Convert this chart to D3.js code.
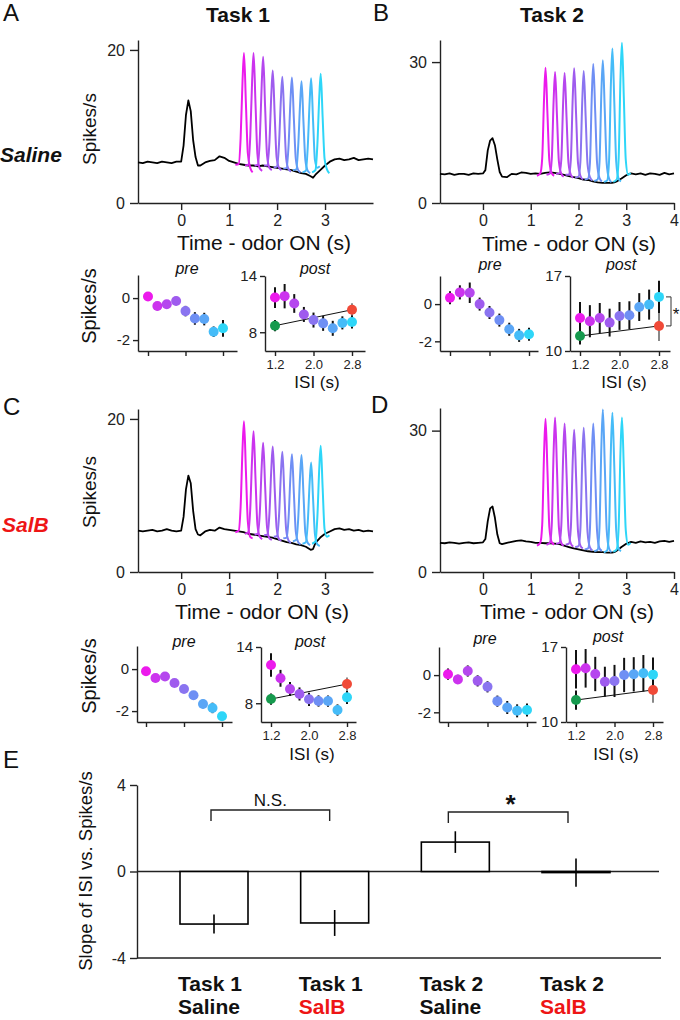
<!DOCTYPE html>
<html><head><meta charset="utf-8">
<script src="https://cdn.jsdelivr.net/npm/d3@7"></script>
<style>body{margin:0;background:#fff}svg{display:block}</style>
</head><body><script>
// ---------------- DATA ----------------
const isiValues = [1.2, 1.4, 1.6, 1.8, 2.0, 2.2, 2.4, 2.6, 2.8];
const isiColors = ["#ec1aec","#cc33ee","#b547ee","#9f5bee","#8a74f0","#6f8ff4","#5aa6f6","#45bcf8","#2ed6f8"];

// black PSTH traces (time in s, spikes/s)
const traceTime = [-0.9,-0.8,-0.7,-0.6,-0.5,-0.4,-0.3,-0.2,-0.1,0,
  0.05,0.1,0.15,0.2,0.25,0.3,0.35,0.4,
  0.5,0.6,0.7,0.8,0.9,1.0,1.1,1.2,1.3,1.4,1.5,1.6,1.7,1.8,1.9,2.0,2.1,2.2,2.3,2.4,2.5,2.6,2.7,
  2.75,
  2.8,2.9,3.0,3.1,3.2,3.3,3.4,3.5,3.6,3.7,3.8,3.9,4.0];
const traceA = [5.3,5.2,5.4,5.3,5.2,5.4,5.3,5.2,5.4,5.4,
  7.5,11.5,13.4,12.0,8.2,6.0,4.9,4.9,
  5.3,5.5,5.6,6.1,5.9,5.5,5.3,5.1,5.0,4.9,4.9,4.8,4.9,4.8,4.7,4.6,4.5,4.4,4.3,4.1,3.9,3.8,3.5,
  3.3,
  3.7,4.3,4.9,5.4,5.7,5.8,5.6,5.7,5.9,5.6,5.7,5.8,5.7];
const traceB = [6.2,6.1,6.3,6.0,6.2,6.2,6.0,6.3,6.2,6.3,
  7.0,11.2,13.3,13.8,12.3,9.3,6.6,5.6,
  5.5,6.2,6.1,6.5,6.4,6.2,6.3,6.2,6.4,6.5,6.4,6.2,6.0,5.7,5.5,5.3,5.0,4.9,4.6,4.4,4.3,4.3,4.3,
  4.4,
  4.6,5.2,5.9,6.3,6.1,6.3,6.0,6.3,6.2,6.0,6.4,6.1,6.3];
const traceC = [5.4,5.3,5.4,5.5,5.3,5.4,5.6,5.4,5.3,5.4,
  7.2,10.8,12.6,11.6,8.0,5.6,4.9,4.8,
  5.3,5.5,5.4,5.8,5.6,5.5,5.4,5.3,5.2,5.0,4.9,4.8,4.7,4.6,4.5,4.3,4.1,3.9,3.8,3.6,3.5,3.3,2.9,
  3.0,
  3.8,4.5,5.0,5.3,5.6,5.7,5.5,5.6,5.4,5.5,5.3,5.4,5.3];
const traceD = [6.2,6.1,6.3,6.2,6.0,6.2,6.3,6.1,6.2,6.3,
  7.0,10.8,13.5,13.9,11.5,8.0,6.1,5.9,
  6.2,6.4,6.6,6.7,6.5,6.4,6.2,6.2,6.1,6.1,6.0,5.9,5.6,5.3,5.0,4.8,4.6,4.4,4.3,4.2,4.2,4.1,4.1,
  4.2,
  4.5,5.3,6.0,6.4,6.2,6.5,6.3,6.4,6.2,6.5,6.6,6.4,6.6];

// colored responses to 2nd odor, sampled at ISI + offset
const peakOffsets = [-0.07, 0, 0.04, 0.08, 0.11, 0.15, 0.19, 0.24, 0.29];
const peaksA = [
  [5.0,5.1,8.5,16.0,19.6,13.0,6.5,4.6,4.0],
  [4.9,5.0,8.6,16.0,19.6,13.0,6.4,4.5,4.2],
  [4.9,5.0,8.4,15.6,19.1,12.6,6.3,4.6,4.3],
  [4.9,4.9,7.9,14.2,17.3,11.5,6.0,4.6,4.3],
  [4.6,4.8,7.7,13.6,16.5,11.0,5.8,4.4,4.1],
  [4.5,4.6,7.6,13.5,16.4,11.0,5.8,4.3,4.0],
  [4.3,4.4,7.4,13.0,15.9,10.6,5.6,4.2,3.9],
  [4.0,4.2,7.4,13.4,16.3,10.8,5.6,4.6,4.8],
  [4.0,4.3,7.6,13.9,16.9,11.2,5.8,4.4,3.9]];
const peaksB = [
  [5.8,6.3,9.5,22.5,28.8,19.0,9.0,6.3,5.8],
  [6.0,6.3,9.3,22.0,27.9,18.4,8.8,6.2,5.6],
  [6.2,6.3,9.2,21.8,27.7,18.2,8.6,6.0,5.4],
  [6.0,6.0,9.2,22.6,28.7,18.8,8.5,5.8,5.0],
  [5.4,5.6,8.8,22.0,28.1,18.4,8.2,5.5,4.8],
  [5.0,5.2,8.6,23.2,29.6,19.4,8.4,5.3,4.6],
  [4.7,5.0,8.7,23.8,30.4,19.8,8.5,5.2,4.4],
  [4.5,4.8,9.0,25.8,32.9,21.4,8.8,5.2,4.6],
  [4.5,5.0,9.2,26.8,34.1,22.2,9.2,6.0,6.4]];
const peaksC = [
  [5.2,5.4,8.6,16.2,19.7,13.2,6.6,4.6,4.4],
  [5.0,5.2,8.2,15.0,18.4,12.2,6.2,4.6,4.3],
  [4.9,5.0,7.8,13.9,16.9,11.3,5.9,4.4,4.2],
  [4.8,4.9,7.6,13.5,16.4,10.9,5.8,4.3,4.1],
  [4.6,4.7,7.3,12.9,15.7,10.5,5.5,4.1,3.8],
  [4.4,4.5,7.1,12.7,15.4,10.3,5.3,3.9,3.6],
  [4.0,4.2,6.9,12.6,15.3,10.2,5.1,3.8,3.5],
  [3.7,3.9,6.5,11.8,14.3,9.6,4.9,3.6,3.4],
  [3.7,4.0,7.2,13.6,16.5,11.0,5.6,4.6,4.8]];
const peaksD = [
  [5.6,6.2,10.0,25.5,32.5,21.5,9.5,6.3,5.8],
  [5.8,6.2,10.0,25.8,32.8,21.7,9.4,6.2,5.6],
  [6.0,6.2,9.8,24.8,31.5,20.8,9.0,6.0,5.4],
  [5.8,6.0,9.4,23.8,30.2,20.0,8.6,5.6,5.0],
  [5.3,5.5,9.2,24.0,30.6,20.2,8.4,5.2,4.6],
  [4.8,5.0,9.2,24.8,31.5,20.8,8.5,5.0,4.5],
  [4.4,4.7,9.5,27.0,34.5,22.8,9.0,5.0,4.2],
  [4.2,4.6,9.3,26.5,33.8,22.3,8.8,5.0,4.4],
  [4.3,4.8,9.2,25.8,32.8,21.7,8.9,5.8,6.2]];

// pre / post mean firing by ISI
const preA = [0.08,-0.38,-0.29,-0.14,-0.62,-0.97,-1.0,-1.6,-1.44];
const preAErr = [0.2,0.2,0.2,0.2,0.25,0.3,0.3,0.25,0.4];
const postA = [11.7,11.85,11.07,9.9,9.3,8.95,8.42,9.0,9.1];
const postAErr = [1.1,1.3,1.0,0.8,0.8,0.8,0.8,0.7,0.7];
const fitA = [8.7,10.4], fitAErr = [0.6,0.7];

const preB = [0.34,0.63,0.61,0.0,-0.45,-0.86,-1.35,-1.68,-1.62];
const preBErr = [0.35,0.38,0.55,0.35,0.35,0.35,0.35,0.35,0.35];
const postB = [13.08,12.78,13.08,12.65,13.27,13.34,14.1,14.33,15.05];
const postBErr = [1.5,1.5,1.4,1.3,1.3,1.3,1.3,1.4,1.5];
const fitB = [11.4,12.34], fitBErr = [0.8,1.4];

const preC = [-0.1,-0.42,-0.35,-0.66,-0.95,-1.25,-1.66,-1.85,-2.25];
const preCErr = [0.2,0.2,0.2,0.15,0.15,0.15,0.2,0.25,0.2];
const postC = [12.08,10.66,9.52,8.99,8.42,8.24,8.24,7.28,8.63];
const postCErr = [1.25,0.9,0.75,0.7,0.7,0.6,0.6,0.6,0.7];
const fitC = [8.45,10.05], fitCErr = [0.6,0.7];

const preD = [0.05,-0.23,0.22,-0.31,-0.63,-1.4,-1.74,-1.92,-1.88];
const preDErr = [0.3,0.25,0.3,0.3,0.3,0.3,0.35,0.35,0.35];
const postD = [14.92,15.01,14.48,13.76,13.83,14.39,14.45,14.55,14.42];
const postDErr = [1.8,1.8,1.6,1.4,1.5,1.6,1.6,1.7,1.6];
const fitD = [12.05,12.99], fitDErr = [0.9,1.2];

// panel E
const slopeCats = ["t1s","t1b","t2s","t2b"];
const slopeTask = ["Task 1","Task 1","Task 2","Task 2"];
const slopeGroup = ["Saline","SalB","Saline","SalB"];
const slopeValues = [-2.43,-2.38,1.36,-0.05];
const slopeErr = [0.44,0.6,0.5,0.65];

// ---------------- DRAW ----------------
const FONT = '"Liberation Sans", Arial, Helvetica, sans-serif';
const RED = "#ee1515";
const GREEN = "#169a4e";
const REDDOT = "#f04a38";
const svg = d3.select("body").append("svg").attr("width",680).attr("height",1020)
  .attr("font-family",FONT);

function txt(x,y,s,o={}) {
  const t = svg.append("text").attr("x",x).attr("y",y).text(s)
    .attr("font-size",o.size||16).attr("font-weight",o.weight||"normal")
    .attr("font-style",o.style||"normal").attr("fill",o.fill||"#111")
    .attr("text-anchor",o.anchor||"start");
  if (o.rotate) t.attr("transform",`rotate(-90,${x},${y})`);
  return t;
}
function styleAxis(g,fs){
  g.attr("font-family",FONT).attr("font-size",fs);
  g.select(".domain").attr("stroke","#222").attr("stroke-width",1.4);
  g.selectAll(".tick line").attr("stroke","#222").attr("stroke-width",1.4);
  g.selectAll(".tick text").attr("fill","#222");
}

function tracePanel(p){
  const x = d3.scaleLinear().domain([-0.9,4]).range([p.x0,p.x1]);
  const y = d3.scaleLinear().domain([0,p.ymax]).range([p.yb,p.yt]);
  const gx = svg.append("g").attr("transform",`translate(0,${p.yb})`)
    .call(d3.axisBottom(x).tickValues(p.xticks).tickSize(7).tickSizeOuter(0).tickPadding(5).tickFormat(d3.format("d")));
  styleAxis(gx,16);
  const gy = svg.append("g").attr("transform",`translate(${p.x0},0)`)
    .call(d3.axisLeft(y).tickValues(p.yticks).tickSize(8).tickSizeOuter(0).tickPadding(5));
  styleAxis(gy,16);
  const line = d3.line().x(d=>x(d[0])).y(d=>y(d[1]));
  svg.append("path").datum(traceTime.map((t,i)=>[t,p.black[i]]))
    .attr("d",line).attr("fill","none").attr("stroke","#000")
    .attr("stroke-width",1.8).attr("stroke-linejoin","round");
  const cl = d3.line().x(d=>x(d[0])).y(d=>y(d[1])).curve(d3.curveMonotoneX);
  p.peaks.forEach((vals,k)=>{
    svg.append("path").datum(peakOffsets.map((o,j)=>[isiValues[k]+o,vals[j]]))
      .attr("d",cl).attr("fill","none").attr("stroke",isiColors[k])
      .attr("stroke-width",2).attr("stroke-linejoin","round");
  });
}

function dotPanel(p){
  const x = d3.scaleLinear().domain([1.2,2.8]).range([p.px12,p.px28]);
  x.domain([x.invert(p.ax0),x.invert(p.ax1)]).range([p.ax0,p.ax1]);
  const y = d3.scaleLinear().domain(p.ydom).range([p.yb,p.yt]);
  const gx = svg.append("g").attr("transform",`translate(0,${p.yb})`)
    .call(d3.axisBottom(x).tickValues([1.2,2.0,2.8]).tickSize(5).tickSizeOuter(0).tickPadding(4)
      .tickFormat(p.xlabels ? d3.format(".1f") : ()=>""));
  styleAxis(gx,13);
  const gy = svg.append("g").attr("transform",`translate(${p.ax0},0)`)
    .call(d3.axisLeft(y).tickValues(p.yticks).tickSize(5).tickSizeOuter(0).tickPadding(3).tickFormat(d=>String(d)));
  styleAxis(gy,15);
  if (p.fit){
    svg.append("line").attr("x1",x(1.2)).attr("x2",x(2.8))
      .attr("y1",y(p.fit[0])).attr("y2",y(p.fit[1])).attr("stroke","#111").attr("stroke-width",1);
    [[1.2,p.fit[0],p.fitErr[0],"#111"],[2.8,p.fit[1],p.fitErr[1],"#888"]].forEach(d=>{
      svg.append("line").attr("x1",x(d[0])).attr("x2",x(d[0]))
        .attr("y1",y(d[1]-d[2])).attr("y2",y(d[1]+d[2])).attr("stroke",d[3]).attr("stroke-width",2);
    });
  }
  p.vals.forEach((v,i)=>{
    svg.append("line").attr("x1",x(isiValues[i])).attr("x2",x(isiValues[i]))
      .attr("y1",y(v-p.errs[i])).attr("y2",y(v+p.errs[i])).attr("stroke","#111").attr("stroke-width",2);
  });
  p.vals.forEach((v,i)=>{
    svg.append("circle").attr("cx",x(isiValues[i])).attr("cy",y(v)).attr("r",5).attr("fill",isiColors[i]);
  });
  if (p.fit){
    svg.append("circle").attr("cx",x(1.2)).attr("cy",y(p.fit[0])).attr("r",5).attr("fill",GREEN);
    svg.append("circle").attr("cx",x(2.8)).attr("cy",y(p.fit[1])).attr("r",5).attr("fill",REDDOT);
  }
  txt(p.lx,p.ly,p.label,{size:16,style:"italic",anchor:"middle"});
  if (p.xlabels) txt(p.isiX,p.isiY,"ISI (s)",{size:17,anchor:"middle"});
  return {x,y};
}

// titles and panel letters
txt(238,22,"Task 1",{size:21,weight:"bold",anchor:"middle"});
txt(552,22,"Task 2",{size:21,weight:"bold",anchor:"middle"});
txt(3,21,"A",{size:24});
txt(373,21,"B",{size:24});
txt(3,415,"C",{size:24});
txt(371,413,"D",{size:24});
txt(3,768,"E",{size:24});
txt(0,162,"Saline",{size:21,weight:"bold",style:"italic"});
txt(2,532,"SalB",{size:21,weight:"bold",style:"italic",fill:RED});

// top trace panels
tracePanel({x0:138,x1:373,yb:203,yt:40,ymax:21.3,yticks:[0,20],xticks:[0,1,2,3],black:traceA,peaks:peaksA});
tracePanel({x0:440,x1:674,yb:203,yt:40,ymax:34.7,yticks:[0,30],xticks:[0,1,2,3,4],black:traceB,peaks:peaksB});
tracePanel({x0:138,x1:373,yb:572,yt:409,ymax:21.3,yticks:[0,20],xticks:[0,1,2,3],black:traceC,peaks:peaksC});
tracePanel({x0:440,x1:674,yb:572,yt:408,ymax:34.8,yticks:[0,30],xticks:[0,1,2,3,4],black:traceD,peaks:peaksD});
txt(96,129,"Spikes/s",{size:19,anchor:"middle",rotate:true});
txt(96,492,"Spikes/s",{size:19,anchor:"middle",rotate:true});
txt(264,250,"Time - odor ON (s)",{size:21,anchor:"middle"});
txt(569,251,"Time - odor ON (s)",{size:21,anchor:"middle"});
txt(262,619,"Time - odor ON (s)",{size:21,anchor:"middle"});
txt(567,619,"Time - odor ON (s)",{size:21,anchor:"middle"});

// small pre/post panels
dotPanel({ax0:138,ax1:237,px12:148,px28:223,yb:351,yt:275,ydom:[-2.52,1.1],yticks:[0,-2],vals:preA,errs:preAErr,label:"pre",lx:187,ly:274});
dotPanel({ax0:265,ax1:365,px12:275,px28:352,yb:351,yt:276,ydom:[6,14],yticks:[8,14],vals:postA,errs:postAErr,fit:fitA,fitErr:fitAErr,xlabels:true,label:"post",lx:315,ly:274,isiX:317,isiY:388});
dotPanel({ax0:440,ax1:538,px12:450,px28:529,yb:351,yt:276,ydom:[-2.52,1.51],yticks:[0,-2],vals:preB,errs:preBErr,label:"pre",lx:490,ly:270});
const bPost = dotPanel({ax0:570,ax1:670,px12:580,px28:659,yb:351,yt:276,ydom:[10,17],yticks:[10,17],vals:postB,errs:postBErr,fit:fitB,fitErr:fitBErr,xlabels:true,label:"post",lx:621,ly:270,isiX:624,isiY:388});
dotPanel({ax0:137,ax1:232,px12:146,px28:222,yb:722,yt:646,ydom:[-2.52,1.1],yticks:[0,-2],vals:preC,errs:preCErr,label:"pre",lx:184,ly:647});
dotPanel({ax0:261,ax1:356,px12:271,px28:347,yb:722,yt:647,ydom:[6,14],yticks:[8,14],vals:postC,errs:postCErr,fit:fitC,fitErr:fitCErr,xlabels:true,label:"post",lx:310,ly:647,isiX:312,isiY:760});
dotPanel({ax0:439,ax1:536,px12:448,px28:527,yb:722,yt:647,ydom:[-2.52,1.51],yticks:[0,-2],vals:preD,errs:preDErr,label:"pre",lx:485,ly:644});
dotPanel({ax0:566,ax1:663,px12:576,px28:653,yb:722,yt:647,ydom:[10,17],yticks:[10,17],vals:postD,errs:postDErr,fit:fitD,fitErr:fitDErr,xlabels:true,label:"post",lx:608,ly:642,isiX:616,isiY:760});
txt(96,306,"Spikes/s",{size:20,anchor:"middle",rotate:true});
txt(96,676,"Spikes/s",{size:20,anchor:"middle",rotate:true});

// significance bracket in B post
{
  const yTop = bPost.y(postB[8]), yBot = bPost.y(fitB[1]), bx = 671;
  svg.append("path").attr("d",`M${bx-5},${yTop}H${bx}V${yBot}H${bx-5}`)
    .attr("fill","none").attr("stroke","#333").attr("stroke-width",1);
  txt(676,(yTop+yBot)/2+9,"*",{size:17,anchor:"middle"});
}

// panel E
const ey = d3.scaleLinear().domain([-4,4]).range([958,785]);
const ex = d3.scalePoint().domain(slopeCats).range([214,576]);
const gey = svg.append("g").attr("transform","translate(137,0)")
  .call(d3.axisLeft(ey).tickValues([-4,0,4]).tickSize(7).tickSizeOuter(0).tickPadding(4).tickFormat(d=>String(d)));
styleAxis(gey,16);
svg.append("line").attr("x1",137).attr("x2",661).attr("y1",ey(-4)).attr("y2",ey(-4)).attr("stroke","#222").attr("stroke-width",1.4);
svg.append("line").attr("x1",137).attr("x2",659).attr("y1",ey(0)).attr("y2",ey(0)).attr("stroke","#222").attr("stroke-width",1.4);
const bw = 68;
slopeCats.forEach((c,i)=>{
  const v = slopeValues[i];
  svg.append("rect").attr("x",ex(c)-bw/2).attr("width",bw)
    .attr("y",Math.min(ey(0),ey(v))).attr("height",Math.abs(ey(v)-ey(0)))
    .attr("fill","#fff").attr("stroke","#000").attr("stroke-width",1.6);
  svg.append("line").attr("x1",ex(c)).attr("x2",ex(c))
    .attr("y1",ey(v-slopeErr[i])).attr("y2",ey(v+slopeErr[i])).attr("stroke","#000").attr("stroke-width",1.6);
  const t1 = txt(ex(c)-4,991,slopeTask[i],{size:21,weight:"bold",anchor:"middle"});
  const bb = t1.node().getBBox();
  txt(bb.x,1014,slopeGroup[i],{size:21,weight:"bold",fill:slopeGroup[i]==="SalB"?RED:"#111"});
});
txt(92,871,"Slope of ISI vs. Spikes/s",{size:18.5,anchor:"middle",rotate:true});
// brackets
function bracket(x1,x2,y,h){
  svg.append("path").attr("d",`M${x1},${y+h}V${y}H${x2}V${y+h}`)
    .attr("fill","none").attr("stroke","#222").attr("stroke-width",1.4);
}
bracket(ex("t1s")-3,ex("t1b")-5,810,11);
txt((ex("t1s")+ex("t1b"))/2-4,806,"N.S.",{size:17,anchor:"middle"});
bracket(ex("t2s")-7,ex("t2b")-8,812,11);
txt((ex("t2s")+ex("t2b"))/2-5,813,"*",{size:26,weight:"bold",anchor:"middle"});
</script></body></html>
